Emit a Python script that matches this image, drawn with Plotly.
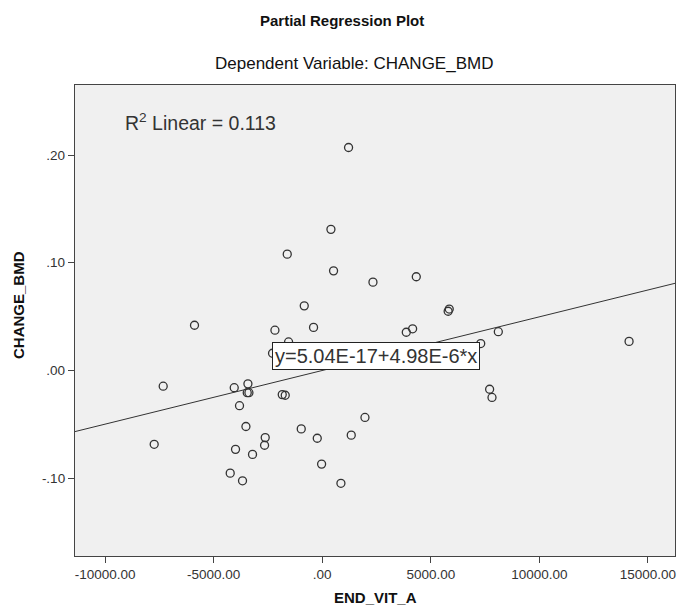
import plotly.graph_objects as go

# Data
end_vit_a = [1212, 400, -1613, 521, 2336, -829, 4332, 5850, 5800, -5885,
             -2180, -401, -1551, -2290, 3871, 4163, 8111, 7300, 14134, 7710,
             7820, -7327, -4055, -3424, -3456, -3378, -1843, -1705, -3811, -3516,
             -7742, 1968, 1336, -968, -230, -2627, -2657, -3995, -3212, -30,
             -4240, -3673, 860]
change_bmd = [0.207, 0.131, 0.108, 0.0925, 0.082, 0.060, 0.087, 0.057, 0.055, 0.042,
              0.0374, 0.040, 0.0265, 0.016, 0.0355, 0.0387, 0.036, 0.025, 0.027, -0.0174,
              -0.025, -0.0146, -0.016, -0.0124, -0.0206, -0.0206, -0.0224, -0.023, -0.0327, -0.052,
              -0.0685, -0.0436, -0.060, -0.0542, -0.0629, -0.0623, -0.0694, -0.0732, -0.0779, -0.0869,
              -0.0953, -0.1024, -0.1047]

intercept = 5.04e-17
slope = 4.98e-6
x_range = [-11390, 16250]
y_range = [-0.1722, 0.265]

x_tickvals = [-10000, -5000, 0, 5000, 10000, 15000]
x_ticktext = ["-10000.00", "-5000.00", ".00", "5000.00", "10000.00", "15000.00"]
y_tickvals = [-0.1, 0.0, 0.1, 0.2]
y_ticktext = ["-.10", ".00", ".10", ".20"]

line_x = x_range
line_y = [intercept + slope * v for v in line_x]

fig = go.Figure()
fig.add_trace(go.Scatter(x=line_x, y=line_y, mode="lines",
                         line=dict(color="#333333", width=1), hoverinfo="skip"))
fig.add_trace(go.Scatter(x=end_vit_a, y=change_bmd, mode="markers",
                         marker=dict(symbol="circle-open", size=8, color="#333333",
                                     line=dict(width=1.3, color="#333333"))))

FONT = "Liberation Sans, Arial, sans-serif"

fig.update_layout(
    width=677, height=613,
    margin=dict(l=75, r=2, t=85, b=57),
    paper_bgcolor="white", plot_bgcolor="#F0F0F0",
    showlegend=False,
    font=dict(family=FONT, color="#222222"),
)
fig.update_xaxes(range=x_range, tickvals=x_tickvals, ticktext=x_ticktext,
                 showgrid=False, zeroline=False, showline=True, linecolor="#444444",
                 linewidth=1.3, mirror=True, ticks="outside", ticklen=6, tickwidth=1.3,
                 tickcolor="#444444", tickfont=dict(size=13.5, family=FONT, color="#333333"))
fig.update_yaxes(range=y_range, tickvals=y_tickvals, ticktext=y_ticktext,
                 showgrid=False, zeroline=False, showline=True, linecolor="#444444",
                 linewidth=1.3, mirror=True, ticks="outside", ticklen=6, tickwidth=1.3,
                 tickcolor="#444444", tickfont=dict(size=13.5, family=FONT, color="#333333"))

anns = [
    dict(text="<b>Partial Regression Plot</b>", xref="paper", yref="paper",
         x=0.445, y=(556 - 20) / 471, showarrow=False, font=dict(size=15, color="#111111"),
         xanchor="center", yanchor="middle"),
    dict(text="Dependent Variable: CHANGE_BMD", xref="paper", yref="paper",
         x=0.465, y=(556 - 63) / 471, showarrow=False, font=dict(size=17, color="#111111"),
         xanchor="center", yanchor="middle"),
    dict(text="<b>END_VIT_A</b>", xref="paper", yref="paper",
         x=0.5, y=(556 - 597) / 471, showarrow=False, font=dict(size=15, color="#111111"),
         xanchor="center", yanchor="middle"),
    dict(text="<b>CHANGE_BMD</b>", xref="paper", yref="paper", textangle=-90,
         x=(18 - 75) / 600, y=(556 - 305) / 471, showarrow=False,
         font=dict(size=15, color="#111111"), xanchor="center", yanchor="middle"),
    dict(text="R<sup>2</sup> Linear = 0.113", xref="paper", yref="paper",
         x=(123 - 75) / 600, y=(556 - 122) / 471, showarrow=False,
         font=dict(size=19.5, color="#333333"), xanchor="left", yanchor="middle"),
    dict(text="y=5.04E-17+4.98E-6*x", xref="x", yref="y",
         x=2490, y=0.0135, showarrow=False, font=dict(size=20, color="#333333"),
         bgcolor="white", bordercolor="#222222", borderwidth=1, borderpad=2,
         xanchor="center", yanchor="middle"),
]
fig.update_layout(annotations=anns)

fig.write_html("out.html", config={"displayModeBar": False},
               post_script="document.body.style.margin='0';document.body.style.overflow='hidden';")
